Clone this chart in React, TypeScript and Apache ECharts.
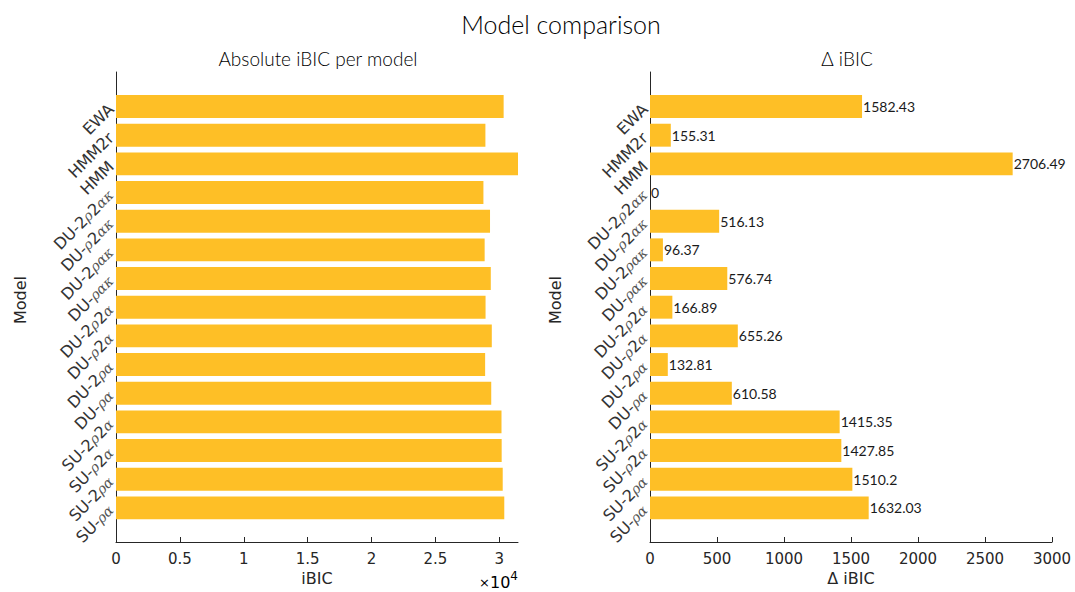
import React, { useEffect, useRef } from "react";
import * as echarts from "echarts";

// Model names, top to bottom
const models = [
  "EWA",
  "HMM2r",
  "HMM",
  "DU-2ρ2ακ",
  "DU-ρ2ακ",
  "DU-2ρακ",
  "DU-ρακ",
  "DU-2ρ2α",
  "DU-ρ2α",
  "DU-2ρα",
  "DU-ρα",
  "SU-2ρ2α",
  "SU-ρ2α",
  "SU-2ρα",
  "SU-ρα",
];

// Absolute integrated BIC per model
const absIBIC = [
  30337, 28910, 31461, 28755, 29271, 28851, 29332, 28922, 29410, 28888, 29366,
  30170, 30183, 30265, 30387,
];

// iBIC difference to the best model
const deltaIBIC = [
  1582.43, 155.31, 2706.49, 0, 516.13, 96.37, 576.74, 166.89, 655.26, 132.81,
  610.58, 1415.35, 1427.85, 1510.2, 1632.03,
];

const absTicks = [0, 5000, 10000, 15000, 20000, 25000, 30000];
const absMax = 31461;
const deltaMax = 3000;

const BAR = "#FEBF26";
const INK = "#262626";
const TICK_FONT = "DejaVu Sans";
const TITLE_FONT = "Lato";

const greekLabel = (s: string) => s.replace(/([ρακ]+)/g, "{g|$1}");

const catRich = {
  g: {
    fontFamily: "DejaVu Serif",
    fontStyle: "italic",
    fontSize: 14,
    color: "#555",
  },
};

function barYAxis(gridIndex: number) {
  return {
    gridIndex,
    type: "category",
    data: models,
    inverse: true,
    axisLine: { show: false },
    axisTick: { show: false },
    splitLine: { show: false },
    axisLabel: {
      interval: 0,
      rotate: 45,
      margin: 5,
      fontFamily: TICK_FONT,
      fontSize: 16,
      color: "#333",
      formatter: greekLabel,
      rich: catRich,
    },
  };
}

function frameYAxis(gridIndex: number) {
  return {
    gridIndex,
    type: "value",
    min: 0,
    max: 1,
    axisLine: { show: true, lineStyle: { color: INK, width: 1 } },
    axisTick: { show: false },
    axisLabel: { show: false },
    splitLine: { show: false },
  };
}

export default function App() {
  const ref = useRef<HTMLDivElement>(null);

  useEffect(() => {
    if (!ref.current) return;
    const chart = echarts.init(ref.current, null, { renderer: "svg" });

    const axisText = { fontFamily: TICK_FONT, fontSize: 15, color: INK };

    chart.setOption({
      animation: false,
      backgroundColor: "#ffffff",
      grid: [
        { left: 116, width: 402, top: 92.2, height: 430 },
        { left: 116, width: 402, top: 72, height: 470 },
        { left: 650, width: 402, top: 92.2, height: 430 },
        { left: 650, width: 402, top: 72, height: 470 },
      ],
      xAxis: [
        { gridIndex: 0, type: "value", min: 0, max: absMax, show: false },
        {
          gridIndex: 1,
          type: "value",
          min: 0,
          max: absMax,
          axisLine: { show: true, lineStyle: { color: INK, width: 1 } },
          axisTick: {
            show: true,
            inside: true,
            length: 5,
            customValues: absTicks,
            lineStyle: { color: INK },
          },
          axisLabel: {
            ...axisText,
            margin: 9,
            customValues: absTicks,
            formatter: (v: number) => String(v / 10000),
          },
          splitLine: { show: false },
          name: "iBIC",
          nameLocation: "middle",
          nameGap: 26,
          nameTextStyle: { fontFamily: TICK_FONT, fontSize: 16, color: INK },
        },
        { gridIndex: 2, type: "value", min: 0, max: deltaMax, show: false },
        {
          gridIndex: 3,
          type: "value",
          min: 0,
          max: deltaMax,
          interval: 500,
          axisLine: { show: true, lineStyle: { color: INK, width: 1 } },
          axisTick: {
            show: true,
            inside: true,
            length: 5,
            lineStyle: { color: INK },
          },
          axisLabel: {
            ...axisText,
            margin: 9,
            formatter: (v: number) => String(v),
          },
          splitLine: { show: false },
          name: "Δ iBIC",
          nameLocation: "middle",
          nameGap: 26,
          nameTextStyle: { fontFamily: TICK_FONT, fontSize: 16, color: INK },
        },
      ],
      yAxis: [barYAxis(0), frameYAxis(1), barYAxis(2), frameYAxis(3)],
      series: [
        {
          type: "bar",
          xAxisIndex: 0,
          yAxisIndex: 0,
          data: absIBIC,
          barCategoryGap: "20%",
          itemStyle: { color: BAR },
        },
        {
          type: "bar",
          xAxisIndex: 2,
          yAxisIndex: 2,
          data: deltaIBIC,
          barCategoryGap: "20%",
          itemStyle: { color: BAR },
          label: {
            show: true,
            position: "right",
            distance: 1,
            fontFamily: TITLE_FONT,
            fontSize: 14,
            color: "#1a1a1a",
            formatter: (p: any) => String(p.value),
          },
        },
      ],
      graphic: [
        {
          type: "text",
          x: 561,
          y: 24,
          style: {
            text: "Model comparison",
            fontFamily: TITLE_FONT,
            fontWeight: 300,
            fontSize: 25,
            fill: "#000",
            align: "center",
            verticalAlign: "middle",
          },
        },
        {
          type: "text",
          x: 318,
          y: 58,
          style: {
            text: "Absolute iBIC per model",
            fontFamily: TITLE_FONT,
            fontWeight: 300,
            fontSize: 19,
            fill: "#000",
            align: "center",
            verticalAlign: "middle",
          },
        },
        {
          type: "text",
          x: 847,
          y: 58,
          style: {
            text: "Δ iBIC",
            fontFamily: TITLE_FONT,
            fontWeight: 300,
            fontSize: 19,
            fill: "#000",
            align: "center",
            verticalAlign: "middle",
          },
        },
        {
          type: "text",
          x: 20,
          y: 300,
          rotation: Math.PI / 2,
          style: {
            text: "Model",
            fontFamily: TICK_FONT,
            fontSize: 16,
            fill: INK,
            align: "center",
            verticalAlign: "middle",
          },
        },
        {
          type: "text",
          x: 555,
          y: 300,
          rotation: Math.PI / 2,
          style: {
            text: "Model",
            fontFamily: TICK_FONT,
            fontSize: 16,
            fill: INK,
            align: "center",
            verticalAlign: "middle",
          },
        },
        {
          type: "text",
          x: 518,
          y: 582,
          style: {
            text: "{x|×}{a|10}{b|4}",
            align: "right",
            verticalAlign: "middle",
            rich: {
              x: { fontFamily: TICK_FONT, fontSize: 13, color: "#444" },
              a: { fontFamily: TICK_FONT, fontSize: 16, color: "#333" },
              b: {
                fontFamily: TICK_FONT,
                fontSize: 12,
                color: "#333",
                padding: [0, 0, 12, 0],
              },
            },
          },
        },
      ],
    });

    return () => chart.dispose();
  }, []);

  return (
    <div
      ref={ref}
      style={{ position: "fixed", left: 0, top: 0, width: 1075, height: 592 }}
    />
  );
}
